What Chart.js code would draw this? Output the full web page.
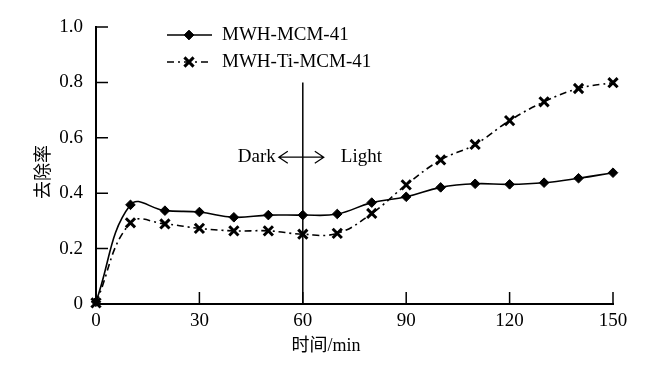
<!DOCTYPE html>
<html>
<head>
<meta charset="utf-8">
<script src="https://cdn.jsdelivr.net/npm/chart.js@4.4.1/dist/chart.umd.min.js"></script>
<style>
  html, body { margin: 0; padding: 0; background: #fff; }
  #chart { display: block; }
</style>
</head>
<body>
<canvas id="chart" width="646" height="369"></canvas>
<script>
/* ---------------- data ---------------- */
const timeMin = [0, 10, 20, 30, 40, 50, 60, 70, 80, 90, 100, 110, 120, 130, 140, 150];
const mcmRemoval = [0.008, 0.358, 0.337, 0.332, 0.313, 0.321, 0.321, 0.325, 0.366, 0.387, 0.421, 0.434, 0.432, 0.438, 0.454, 0.474];
const tiRemoval = [0.004, 0.293, 0.289, 0.273, 0.264, 0.264, 0.252, 0.255, 0.327, 0.430, 0.520, 0.576, 0.662, 0.730, 0.778, 0.799];
const seriesNames = ["MWH-MCM-41", "MWH-Ti-MCM-41"];
const xTicks = [0, 30, 60, 90, 120, 150];
const yTicks = [0, 0.2, 0.4, 0.6, 0.8, 1.0];
const xTitle = "时间/min";
const yTitle = "去除率";
const dividerX = 60;
const dividerTop = 0.8;
const darkLabel = "Dark";
const lightLabel = "Light";
const arrowY = 0.53;

/* ---------------- style ---------------- */
const FONT = "'Liberation Serif', 'Times New Roman', 'Noto Sans CJK SC', serif";
const INK = "#000";
const DASH_DOT = [7, 4, 2, 4];

/* inward ticks, titles, divider, arrow and legend */
const decorPlugin = {
    id: "decorPlugin",
    afterDraw(chart) {
        const { ctx, chartArea } = chart;
        const xs = chart.scales.x;
        const ys = chart.scales.y;
        ctx.save();
        ctx.strokeStyle = INK;
        ctx.fillStyle = INK;

        // inward tick marks
        ctx.lineWidth = 1.5;
        const tl = 12;
        ctx.beginPath();
        xTicks.forEach(v => {
            const px = xs.getPixelForValue(v);
            ctx.moveTo(px, chartArea.bottom);
            ctx.lineTo(px, chartArea.bottom - tl);
        });
        yTicks.forEach(v => {
            const py = ys.getPixelForValue(v);
            ctx.moveTo(chartArea.left, py);
            ctx.lineTo(chartArea.left + tl, py);
        });
        ctx.stroke();

        // divider between dark and light periods
        const dx = xs.getPixelForValue(dividerX);
        ctx.lineWidth = 1.5;
        ctx.beginPath();
        ctx.moveTo(dx, ys.getPixelForValue(dividerTop));
        ctx.lineTo(dx, chartArea.bottom);
        ctx.stroke();

        // Dark <-> Light
        const ay = ys.getPixelForValue(arrowY);
        ctx.lineWidth = 1.2;
        ctx.beginPath();
        ctx.moveTo(dx - 24, ay);
        ctx.lineTo(dx + 21, ay);
        ctx.moveTo(dx - 15, ay - 6);
        ctx.lineTo(dx - 24, ay);
        ctx.lineTo(dx - 15, ay + 6);
        ctx.moveTo(dx + 12, ay - 6);
        ctx.lineTo(dx + 21, ay);
        ctx.lineTo(dx + 12, ay + 6);
        ctx.stroke();
        ctx.font = "19px " + FONT;
        ctx.textBaseline = "middle";
        ctx.textAlign = "right";
        ctx.fillText(darkLabel, dx - 27, ay);
        ctx.textAlign = "left";
        ctx.fillText(lightLabel, dx + 38, ay);

        // axis titles
        ctx.font = "18px " + FONT;
        ctx.textAlign = "center";
        ctx.fillText(xTitle, 326, 346);
        ctx.save();
        ctx.translate(44, 172);
        ctx.rotate(-Math.PI / 2);
        ctx.fillText(yTitle, 0, 0);
        ctx.restore();

        // legend: line sample + marker + name
        chart.data.datasets.forEach((ds, i) => {
            const ly = 35 + i * 27;
            ctx.lineWidth = ds.borderWidth;
            ctx.setLineDash(ds.borderDash || []);
            ctx.beginPath();
            ctx.moveTo(167, ly);
            ctx.lineTo(212, ly);
            ctx.stroke();
            ctx.setLineDash([]);
            ctx.lineWidth = ds.pointBorderWidth;
            Chart.helpers.drawPoint(ctx, {
                pointStyle: ds.pointStyle,
                radius: ds.pointRadius,
                borderWidth: ds.pointBorderWidth,
                rotation: 0
            }, 189, ly);
            if (ds.pointStyle === "rectRot") ctx.fill();
            ctx.font = "19px " + FONT;
            ctx.textAlign = "left";
            ctx.textBaseline = "middle";
            ctx.fillText(seriesNames[i], 222, ly);
        });
        ctx.restore();
    }
};

new Chart(document.getElementById("chart"), {
    type: "line",
    data: {
        datasets: [
            {
                label: seriesNames[0],
                data: timeMin.map((t, i) => ({ x: t, y: mcmRemoval[i] })),
                borderColor: INK,
                backgroundColor: INK,
                borderWidth: 1.6,
                tension: 0.42,
                pointStyle: "rectRot",
                pointRadius: 4.8,
                pointBorderWidth: 1,
                pointBackgroundColor: INK,
                pointBorderColor: INK
            },
            {
                label: seriesNames[1],
                data: timeMin.map((t, i) => ({ x: t, y: tiRemoval[i] })),
                borderColor: INK,
                backgroundColor: INK,
                borderWidth: 1.6,
                borderDash: DASH_DOT,
                tension: 0.42,
                pointStyle: "crossRot",
                pointRadius: 6.5,
                pointBorderWidth: 3,
                pointBorderColor: INK
            }
        ]
    },
    options: {
        responsive: false,
        animation: false,
        clip: false,
        layout: {
            autoPadding: false,
            padding: { top: 27, right: 33, left: 0, bottom: 0 }
        },
        plugins: {
            legend: { display: false },
            tooltip: { enabled: false }
        },
        scales: {
            x: {
                type: "linear",
                min: 0,
                max: 150,
                afterBuildTicks: s => { s.ticks = xTicks.map(v => ({ value: v })); },
                afterFit: s => { s.height = 65; },
                grid: { display: false, drawTicks: false },
                border: { display: true, color: INK, width: 2 },
                ticks: {
                    color: INK,
                    padding: 6,
                    maxRotation: 0,
                    font: { family: FONT, size: 19 },
                    callback: v => String(v)
                }
            },
            y: {
                type: "linear",
                min: 0,
                max: 1,
                afterBuildTicks: s => { s.ticks = yTicks.map(v => ({ value: v })); },
                afterFit: s => { s.width = 96; },
                grid: { display: false, drawTicks: false },
                border: { display: true, color: INK, width: 2 },
                ticks: {
                    color: INK,
                    padding: 13,
                    font: { family: FONT, size: 19 },
                    callback: v => (v === 0 ? "0" : v.toFixed(1))
                }
            }
        }
    },
    plugins: [decorPlugin]
});
</script>
</body>
</html>
